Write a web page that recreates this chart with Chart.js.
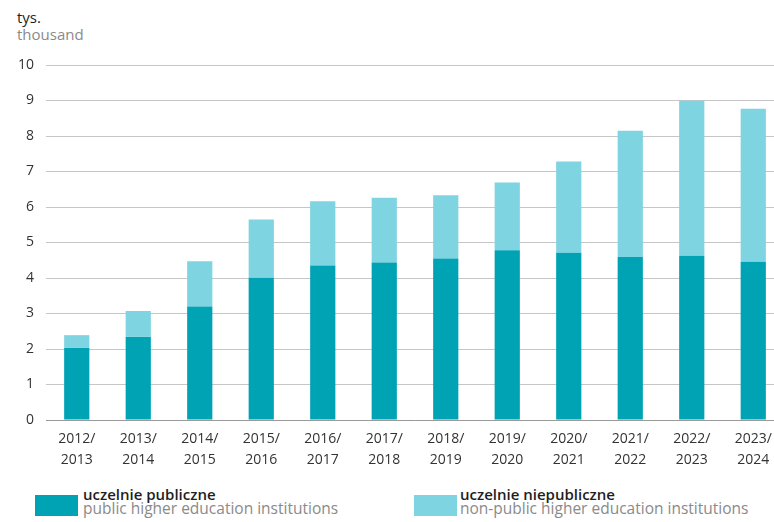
<!DOCTYPE html>
<html>
<head>
<meta charset="utf-8">
<script src="https://cdn.jsdelivr.net/npm/chart.js@4"></script>
<style>
  html, body { margin:0; padding:0; width:774px; height:522px; overflow:hidden; background:#fff; font-family:"Open Sans", sans-serif; }
  #wrap { position:absolute; left:0; top:0; width:786px; height:480px; }
  .unit { position:absolute; left:17px; font-size:15px; line-height:17px; }
  .leg { position:absolute; top:488px; font-size:15.5px; line-height:13.5px; }
  .sw { position:absolute; top:7px; width:43px; height:21px; }
  .t1 { color:#1e1e1e; font-weight:600; font-size:15px; }
  .t2 { color:#8a8a8a; }
  .unit.t1 { font-weight:400; }
</style>
</head>
<body>
<div class="unit t1" style="top:9px">tys.</div>
<div class="unit t2" style="top:26px">thousand</div>
<div id="wrap"><canvas id="c" width="786" height="480"></canvas></div>
<div class="leg" style="left:35px"><div class="sw" style="left:0;background:#00a3b4"></div><div style="margin-left:48px"><div class="t1">uczelnie publiczne</div><div class="t2">public higher education institutions</div></div></div>
<div class="leg" style="left:414px"><div class="sw" style="left:0;background:#7fd4e1"></div><div style="margin-left:46px"><div class="t1">uczelnie niepubliczne</div><div class="t2">non-public higher education institutions</div></div></div>
<script>
const categories = [['2012/','2013'],['2013/','2014'],['2014/','2015'],['2015/','2016'],['2016/','2017'],['2017/','2018'],['2018/','2019'],['2019/','2020'],['2020/','2021'],['2021/','2022'],['2022/','2023'],['2023/','2024']];
const publicValues = [2.03, 2.34, 3.20, 4.01, 4.35, 4.44, 4.55, 4.78, 4.71, 4.59, 4.63, 4.46];
const nonPublicValues = [0.36, 0.73, 1.27, 1.64, 1.81, 1.82, 1.78, 1.91, 2.57, 3.56, 4.36, 4.31];
const yTicks = [0,1,2,3,4,5,6,7,8,9,10];

new Chart(document.getElementById('c'), {
  type: 'bar',
  data: {
    labels: categories,
    datasets: [
      { label: 'uczelnie publiczne', data: publicValues, backgroundColor: '#00a3b4', barPercentage: 0.41, categoryPercentage: 1 },
      { label: 'uczelnie niepubliczne', data: nonPublicValues, backgroundColor: '#7fd4e1', barPercentage: 0.41, categoryPercentage: 1 }
    ]
  },
  options: {
    responsive: false,
    animation: false,
    layout: { padding: { top: 65, right: 2, left: 0, bottom: 0 } },
    plugins: { legend: { display: false }, tooltip: { enabled: false } },
    scales: {
      x: {
        stacked: true,
        grid: { display: false, drawTicks: false },
        border: { display: true, color: '#9a9a9a', width: 1 },
        ticks: { color: '#333', font: { family: 'Open Sans', size: 14, lineHeight: 1.5 }, padding: 9, maxRotation: 0, autoSkip: false },
        afterFit: s => { s.height = 60; }
      },
      y: {
        stacked: true,
        min: 0, max: 10,
        afterBuildTicks: s => { s.ticks = yTicks.map(v => ({ value: v })); },
        grid: { color: '#c6c6c6', lineWidth: 1, drawTicks: false },
        border: { display: false },
        ticks: { color: '#333', font: { family: 'Open Sans', size: 14 }, padding: 12 },
        afterFit: s => { s.width = 46; }
      }
    }
  }
});
</script>
</body>
</html>
